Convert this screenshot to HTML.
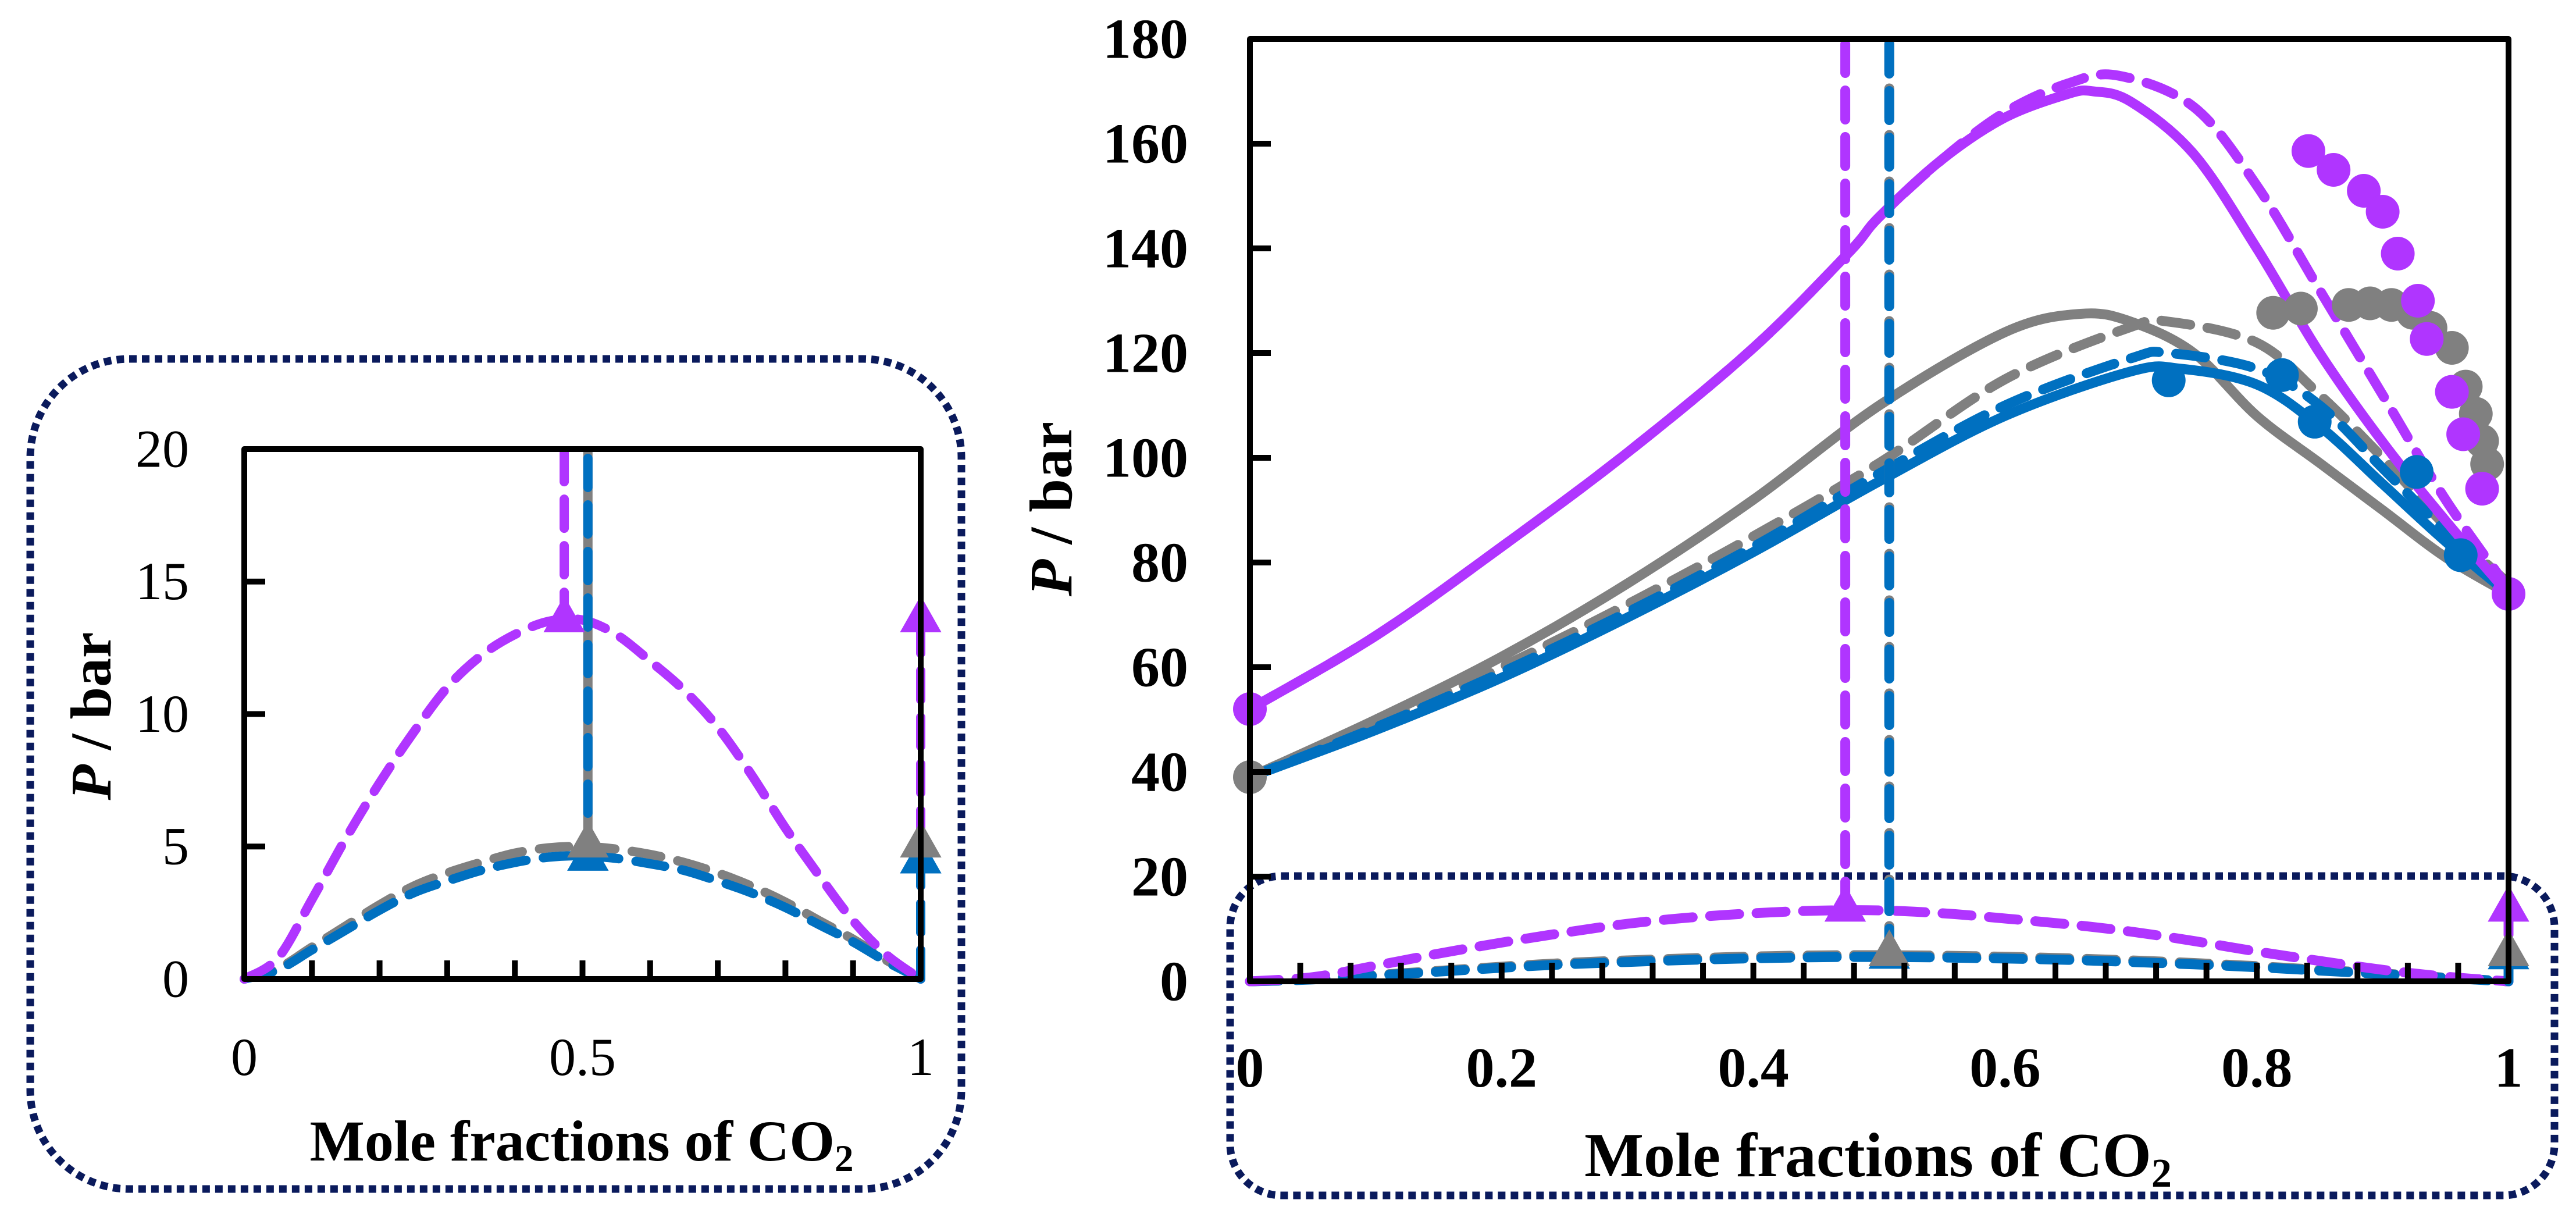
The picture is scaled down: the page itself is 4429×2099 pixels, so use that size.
<!DOCTYPE html>
<html><head><meta charset="utf-8"><style>
html,body{margin:0;padding:0;background:#fff;width:4429px;height:2099px;overflow:hidden}
svg{display:block}
text{font-family:"Liberation Serif",serif;fill:#000}
</style></head><body>
<svg id="chart" xmlns="http://www.w3.org/2000/svg" width="4429" height="2099" viewBox="0 0 4429 2099">
<rect x="52" y="617" width="1601" height="1427" rx="170" ry="170" fill="none" stroke="#0a1a5c" stroke-width="13" stroke-dasharray="13 9"/>
<rect x="2115" y="1506" width="2277" height="549" rx="88" ry="88" fill="none" stroke="#0a1a5c" stroke-width="13" stroke-dasharray="13 9"/>
<g id="main"></g>
<g id="inset"></g>
</svg>
<script>
// ---- data ----
const purpleSolidX = [0,0.1,0.2,0.3,0.4,0.475,0.5,0.55,0.6,0.65,0.67,0.7,0.75,0.8,0.85,0.9,0.95,1];
const purpleSolidY = [52,66,83,101,121,139,146,157,165,169.5,170,168,158,140,120,103,88,74];
const purpleDashX = [0,0.1,0.2,0.3,0.4,0.475,0.5,0.55,0.6,0.65,0.69,0.75,0.8,0.85,0.9,0.95,1];
const purpleDashY = [52,66,83,101,121,139,146,157,166,171.5,173,167,152,132,112,92,75];
const graySolidX = [0,0.1,0.2,0.3,0.4,0.5,0.6,0.66,0.7,0.75,0.8,0.85,0.9,0.95,1];
const graySolidY = [39,50,62,76,92,110,124,127.5,126,120,108,99,90,81,74];
const grayDashX = [0,0.1,0.2,0.3,0.4,0.5,0.6,0.7,0.73,0.8,0.85,0.9,0.95,1];
const grayDashY = [39,49,60,72,85,99,115,125,126,122,112,100,87,76];
const blueDashX = [0,0.1,0.2,0.3,0.4,0.5,0.6,0.7,0.73,0.8,0.85,0.9,0.95,1];
const blueDashY = [39,48.5,59,70.5,83,97,110,119,120,117,110,98,86,75];
const blueSolidX = [0,0.1,0.2,0.3,0.4,0.5,0.6,0.7,0.74,0.8,0.85,0.9,0.95,1];
const blueSolidY = [39,48,58,69.5,82,95.5,108,116.5,117,114,106,95,84,74];
const purplePtsX = [0,1,0.841,0.861,0.885,0.900,0.912,0.928,0.935,0.955,0.964,0.979];
const purplePtsY = [52,74,158.6,155,151,147,139,130,122.7,112.6,104.5,94.1];
const grayPtsX = [0,0.813,0.835,0.873,0.890,0.907,0.924,0.938,0.955,0.966,0.974,0.979,0.983];
const grayPtsY = [39,127.7,128.5,129.2,129.5,129.2,127.7,124.8,121,113.6,108.4,103.2,98.8];
const bluePtsX = [0.730,0.820,0.846,0.927,0.962];
const bluePtsY = [114.8,115.8,106.9,97.3,81.4];
const lowX = [0,0.05,0.1,0.15,0.2,0.25,0.3,0.35,0.4,0.45,0.5,0.55,0.6,0.65,0.7,0.75,0.8,0.85,0.9,0.95,1];
const lowPurpleY = [0,0.8,3.0,5.3,7.4,9.3,11.0,12.2,13.0,13.5,13.55,13.0,12.0,10.9,9.5,7.7,5.7,3.9,2.2,0.9,0];
const lowGrayY = [0,0.4,1.2,2.0,2.8,3.5,4.0,4.4,4.75,4.95,5.0,4.9,4.7,4.4,4.0,3.5,2.9,2.2,1.5,0.7,0];
const lowBlueY = [0,0.35,1.1,1.85,2.6,3.25,3.7,4.1,4.4,4.6,4.65,4.55,4.35,4.1,3.7,3.25,2.7,2.05,1.4,0.65,0];
const vPurpleX = 0.473, vBlueX = 0.508;
const triX = [0.473,0.508,0.508,1,1,1];
const triY = [13.5,4.5,5,13.5,4.4,5];
const triC = ['p','b','g','p','b','g'];
const mainYTicks = [0,20,40,60,80,100,120,140,160,180];
const mainXTicks = [0,0.2,0.4,0.6,0.8,1];
const mainXLabels = ['0','0.2','0.4','0.6','0.8','1'];
const insetYTicks = [0,5,10,15,20];
const insetXTicks = [0,0.5,1];
const insetXLabels = ['0','0.5','1'];

const C = {p:'#b035ff', g:'#808080', b:'#0070c0'};
const NS = 'http://www.w3.org/2000/svg';
function mk(parent, tag, attrs){const e=document.createElementNS(NS,tag);for(const k in attrs)e.setAttribute(k,attrs[k]);parent.appendChild(e);return e;}
function smooth(pts){
  if(pts.length<3) return 'M'+pts.map(p=>p[0].toFixed(1)+' '+p[1].toFixed(1)).join(' L');
  let d='M'+pts[0][0].toFixed(1)+' '+pts[0][1].toFixed(1);
  for(let i=0;i<pts.length-1;i++){
    const p0=pts[Math.max(0,i-1)],p1=pts[i],p2=pts[i+1],p3=pts[Math.min(pts.length-1,i+2)];
    const c1=[p1[0]+(p2[0]-p0[0])/6,p1[1]+(p2[1]-p0[1])/6];
    const c2=[p2[0]-(p3[0]-p1[0])/6,p2[1]-(p3[1]-p1[1])/6];
    d+=` C${c1[0].toFixed(1)} ${c1[1].toFixed(1)} ${c2[0].toFixed(1)} ${c2[1].toFixed(1)} ${p2[0].toFixed(1)} ${p2[1].toFixed(1)}`;
  }
  return d;
}

function drawChart(g, o){
  const sx = v => o.x0 + v*(o.x1-o.x0);
  const sy = v => o.y0 - (v/o.ymax)*(o.y0-o.y1);
  const clipId = o.id+'clip';
  const defs = mk(g,'defs',{});
  const cp = mk(defs,'clipPath',{id:clipId});
  mk(cp,'rect',{x:o.x0-40,y:o.y1,width:o.x1-o.x0+80,height:o.y0-o.y1+30});
  const plot = mk(g,'g',{'clip-path':'url(#'+clipId+')'});
  function line(xs,ys,col,dash,name,w){
    const d = smooth(xs.map((x,i)=>[sx(x),sy(ys[i])]));
    const p = mk(plot,'path',{d:d,fill:'none',stroke:col,'stroke-width':w||o.lw,'stroke-linecap':'round','stroke-linejoin':'round'});
    if(dash) p.setAttribute('stroke-dasharray',dash);
    
    
  }
  const dash = o.dash;
  if(o.full){
    line(graySolidX,graySolidY,C.g,null,'gray-solid-line');
    line(grayDashX,grayDashY,C.g,dash,'gray-dashed-line');
    line(blueSolidX,blueSolidY,C.b,null,'blue-solid-line');
    line(blueDashX,blueDashY,C.b,dash,'blue-dashed-line');
    line(purpleSolidX,purpleSolidY,C.p,null,'purple-solid-line');
    line(purpleDashX,purpleDashY,C.p,dash,'purple-dashed-line');
  }
  line(lowX,lowGrayY,C.g,dash,'gray-low-dashed');
  line(lowX,lowBlueY,C.b,dash,'blue-low-dashed');
  line(lowX,lowPurpleY,C.p,dash,'purple-low-dashed');
  line([vPurpleX,vPurpleX],[13.5,o.ymax],C.p,dash,'purple-vertical-line');
  line([vBlueX,vBlueX],[5,o.ymax],C.g,o.full?dash:null,'gray-vertical-line');
  line([vBlueX,vBlueX],[4.5,o.ymax],C.b,dash,'blue-vertical-line');
  line([1,1],[0,13.5],C.p,dash,'purple-end-vertical');
  line([1,1],[0,4.4],C.b,dash,'blue-end-vertical');
  const ts = o.tri;
  for(let i=0;i<triX.length;i++){
    const cx=sx(triX[i]), cy=sy(triY[i]);
    const t = mk(g,'polygon',{points:`${cx},${cy-ts*1.05} ${cx-ts*0.85},${cy+ts*0.45} ${cx+ts*0.85},${cy+ts*0.45}`,fill:C[triC[i]]});
    
    
  }
  if(o.full){
    const pts=[[grayPtsX,grayPtsY,C.g,'gray-point'],[bluePtsX,bluePtsY,C.b,'blue-point'],[purplePtsX,purplePtsY,C.p,'purple-point']];
    pts.forEach(([xs,ys,col,nm])=>xs.forEach((x,i)=>{
      const c = mk(g,'circle',{cx:sx(x),cy:sy(ys[i]),r:29,fill:col});
      
      
    }));
  }
  const ax = mk(g,'rect',{x:o.x0,y:o.y1,width:o.x1-o.x0,height:o.y0-o.y1,fill:'none',stroke:'#000','stroke-width':10,'stroke-linejoin':'round'});
  
  
  o.yTicks.forEach(v=>{
    mk(g,'line',{x1:o.x0,x2:o.x0+36,y1:sy(v),y2:sy(v),stroke:'#000','stroke-width':10});
    const t = mk(g,'text',{x:o.ylabX,y:sy(v)+o.fs*0.33,'text-anchor':'end','font-size':o.fs,'font-weight':o.bold?'bold':'normal'});
    t.textContent = v;
    
    
  });
  for(let v=o.minor; v<1-1e-6; v+=o.minor){
    mk(g,'line',{x1:sx(v),x2:sx(v),y1:o.y0,y2:o.y0-32,stroke:'#000','stroke-width':10});
  }
  o.xTicks.forEach((v,i)=>{
    const t = mk(g,'text',{x:sx(v),y:o.xlabY,'text-anchor':'middle','font-size':o.fs,'font-weight':o.bold?'bold':'normal'});
    t.textContent = o.xLabels[i];
    
    
  });
  const yt = mk(g,'text',{x:0,y:0,transform:`translate(${o.ytX},${o.ytY}) rotate(-90)`,'text-anchor':'middle','font-size':o.tfs,'font-weight':'bold'});
  yt.innerHTML = '<tspan font-style="italic">P</tspan> / bar';
  
  
  const xt = mk(g,'text',{x:o.xtX,y:o.xtY,'text-anchor':'middle','font-size':o.xtfs,'font-weight':'bold'});
  xt.innerHTML = 'Mole fractions of CO<tspan font-size="'+(o.xtfs*0.65)+'" dy="18">2</tspan>';
  
  
}

drawChart(document.getElementById('main'),{id:'m',full:true,x0:2149,x1:4313,y0:1687,y1:67,ymax:180,dash:'50 30',tri:42,lw:17,
  yTicks:mainYTicks,xTicks:mainXTicks,xLabels:mainXLabels,minor:0.04,fs:98,bold:true,ylabX:2043,xlabY:1868,
  tfs:104,xtfs:108,ytX:1842,ytY:875,xtX:3229,xtY:2022});
drawChart(document.getElementById('inset'),{id:'i',full:false,x0:420,x1:1583,y0:1683,y1:772,ymax:20,dash:'50 30',tri:42,lw:16,
  yTicks:insetYTicks,xTicks:insetXTicks,xLabels:insetXLabels,minor:0.1,fs:92,bold:false,ylabX:325,xlabY:1848,
  tfs:100,xtfs:100,ytX:190,ytY:1231,xtX:1000,xtY:1995});
</script>
</body></html>
